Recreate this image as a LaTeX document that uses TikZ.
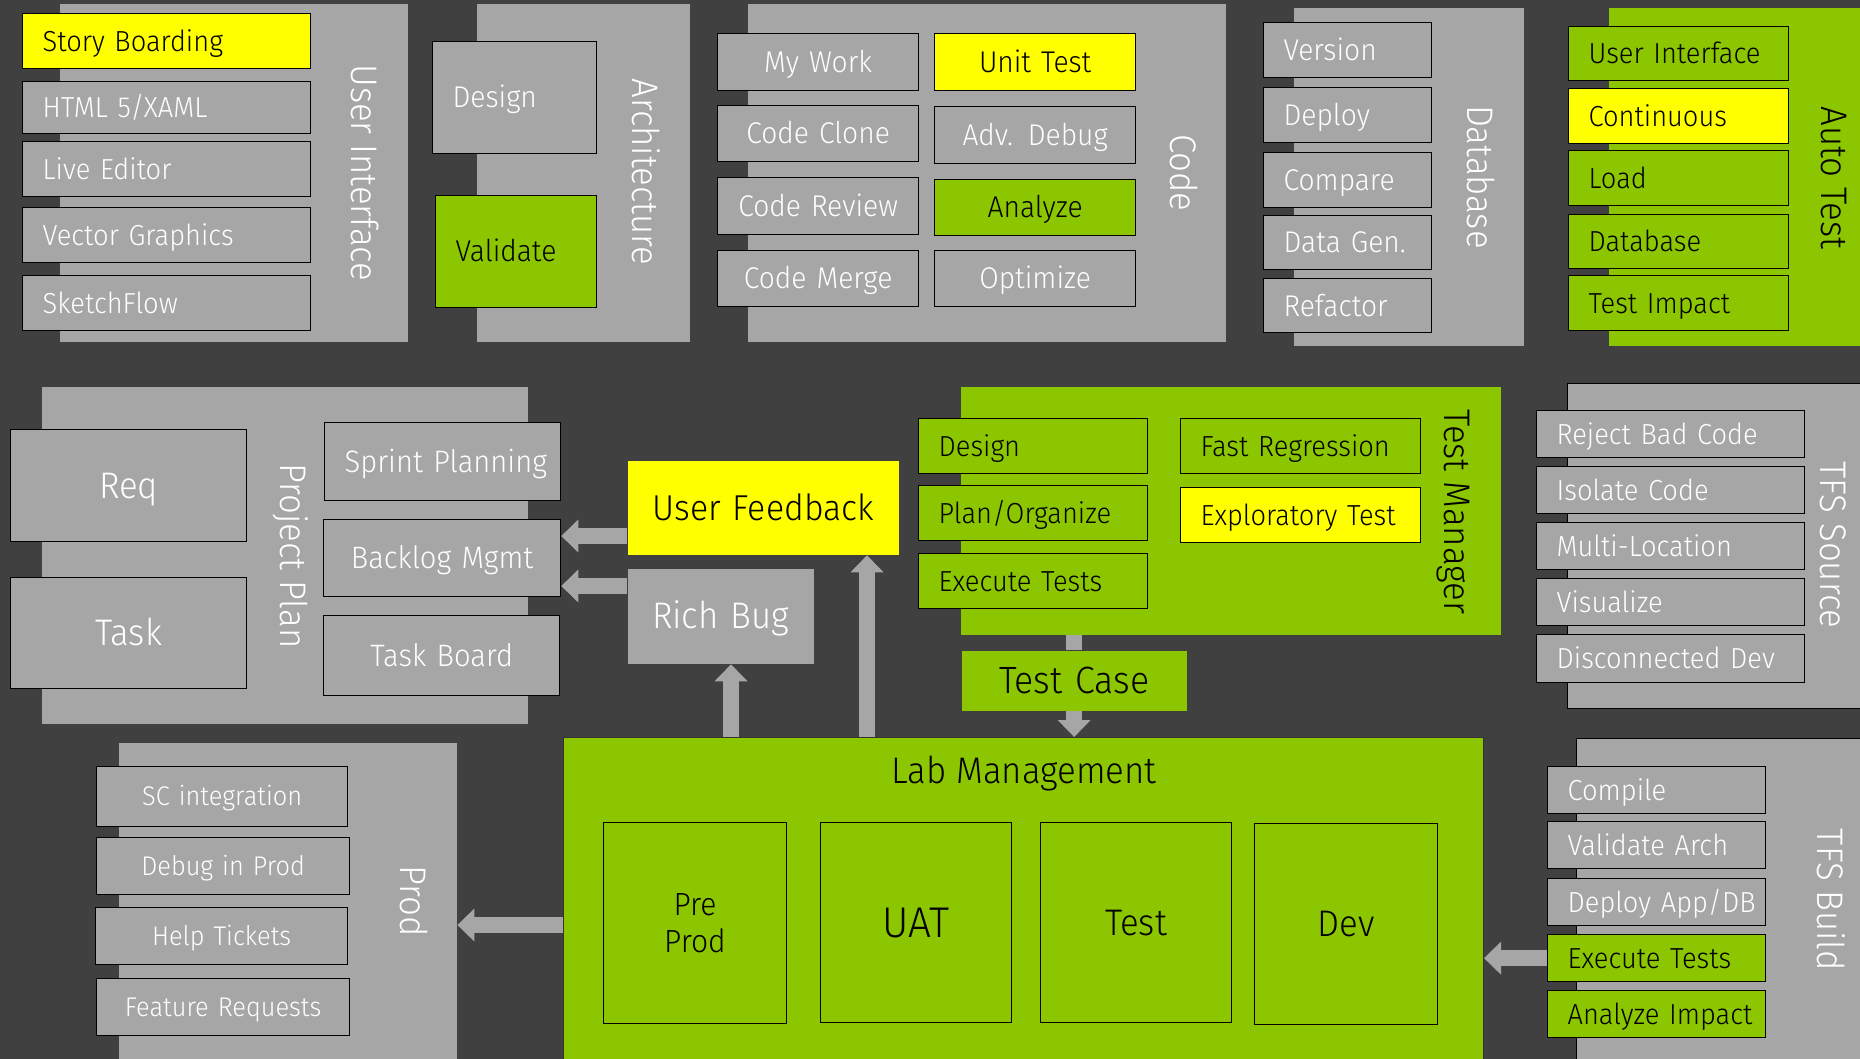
\documentclass[tikz,border=0pt]{standalone}
\usepackage{fontspec}
\setmainfont{Fira Sans}[UprightFont={* Light}, FakeStretch=0.94]
\usetikzlibrary{arrows.meta}
\definecolor{bgc}{RGB}{64,64,64}
\definecolor{pgray}{RGB}{166,166,166}
\definecolor{pgreen}{RGB}{140,198,0}
\definecolor{pyellow}{RGB}{255,255,0}
\newcommand\myfs[1]{\fontsize{#1pt}{#1pt}\selectfont}
\newcommand\bx[7]{\node[#6, minimum width={(#4-#2)*1pt}, minimum height={(#5-#3)*1pt}, text width={(#4-#2-40)*1pt}, anchor=north west] (#1) at (#2,#3) {\mbox{#7}};}
\tikzset{
 fsz/.style={font=\myfs{#1}, text height={0.69*#1pt}, text depth=0pt},
 base/.style={inner xsep=20pt, inner ysep=0pt, fsz=29, draw=black, line width=1.3pt},
 gbox/.style={base, fill=pgray, text=white, align=left},
 grbox/.style={base, fill=pgreen, text=black, align=left},
 ybox/.style={base, fill=pyellow, text=black, align=left},
 cen/.style={align=center},
 panel/.style={inner xsep=20pt, inner ysep=0pt, fill=pgray, text height=0pt, text depth=0pt},
 gpanel/.style={panel, fill=pgreen},
 title/.style={rotate=-90, inner sep=0pt, fsz=37, text=white},
 arr/.style={draw=pgray, line width=16pt, -{Triangle[width=32pt,length=17pt]}},
 bar/.style={draw=pgray, line width=16pt},
}
\begin{document}
\begin{tikzpicture}[x=1pt,y=-1pt]
\useasboundingbox (0,0) rectangle (1860,1059);
\clip (0,0) rectangle (1860,1059);
\fill[bgc] (0,0) rectangle (1860,1059);
% panels
\bx{uip}{60}{4}{408}{342}{panel}{}
\bx{archp}{477}{4}{690}{342}{panel}{}
\bx{codep}{748}{4}{1226}{342}{panel}{}
\bx{dbp}{1294}{8}{1524}{346}{panel}{}
\bx{atp}{1609}{8}{1875}{346}{gpanel}{}
\bx{ppp}{42}{387}{528}{724}{panel}{}
\bx{tm}{961}{387}{1501}{635}{gpanel}{}
\bx{tfss}{1567}{383}{1875}{708}{panel, draw=black, line width=1.3pt}{}
\bx{prod}{119}{743}{457}{1075}{panel}{}
\bx{lab}{563}{737}{1483}{1075}{gpanel, draw=black!80, line width=1pt}{}
\bx{tfsb}{1576}{738}{1875}{1075}{panel, draw=black, line width=1.3pt}{}
% titles
\node[title] (uit) at (364,173) {User Interface};
\node[title] (archt) at (645,172) {Architecture};
\node[title] (codet) at (1183,173) {Code};
\node[title] (dbt) at (1480,177) {Database};
\node[title, text=black] (att) at (1834,178) {Auto Test};
\node[title] (ppt) at (293,556) {Project Plan};
\node[title, text=black] (tmt) at (1457,512) {Test Manager};
\node[title] (tfsst) at (1833,545) {TFS Source};
\node[title] (prodt) at (413,901) {Prod};
\node[title] (tfsbt) at (1830,900) {TFS Build};
\node[fsz=37, inner sep=0pt, text=black] (labt) at (1024,771) {Lab Management};
% user interface
\bx{sb}{22}{13}{310}{68}{ybox}{Story Boarding}
\bx{html}{22}{81}{310}{133}{gbox}{HTML 5/XAML}
\bx{live}{22}{141}{310}{196}{gbox}{Live Editor}
\bx{vec}{22}{207}{310}{262}{gbox}{Vector Graphics}
\bx{sketch}{22}{275}{310}{330}{gbox}{SketchFlow}
% architecture
\bx{adesign}{432}{41}{596}{153}{gbox, fsz=30}{Design}
\bx{avalid}{435}{195}{596}{307}{grbox, fsz=30}{Validate}
% code
\bx{mywork}{717}{33}{918}{90}{gbox, cen, fsz=30}{My Work}
\bx{cclone}{717}{105}{918}{161}{gbox, cen, fsz=30}{Code Clone}
\bx{creview}{717}{177}{918}{234}{gbox, cen, fsz=30}{Code Review}
\bx{cmerge}{717}{250}{918}{306}{gbox, cen, fsz=30}{Code Merge}
\bx{utest}{934}{33}{1135}{90}{ybox, cen, fsz=30}{Unit Test}
\bx{adebug}{934}{106}{1135}{163}{gbox, cen, fsz=30}{Adv. Debug}
\bx{analyze}{934}{179}{1135}{235}{grbox, cen, fsz=30}{Analyze}
\bx{optimize}{934}{250}{1135}{306}{gbox, cen, fsz=30}{Optimize}
% database
\bx{dver}{1263}{22}{1431}{77}{gbox, fsz=30}{Version}
\bx{ddep}{1263}{87}{1431}{142}{gbox, fsz=30}{Deploy}
\bx{dcmp}{1263}{152}{1431}{207}{gbox, fsz=30}{Compare}
\bx{dgen}{1263}{215}{1431}{269}{gbox, fsz=30}{Data Gen.}
\bx{dref}{1263}{278}{1431}{332}{gbox, fsz=30}{Refactor}
% auto test
\bx{atui}{1568}{26}{1788}{80}{grbox}{User Interface}
\bx{atcont}{1568}{88}{1788}{143}{ybox}{Continuous}
\bx{atload}{1568}{150}{1788}{205}{grbox}{Load}
\bx{atdb}{1568}{214}{1788}{268}{grbox}{Database}
\bx{atimp}{1568}{275}{1788}{330}{grbox}{Test Impact}
% project plan
\bx{req}{10}{429}{246}{541}{gbox, cen, fsz=37}{Req}
\bx{task}{10}{577}{246}{688}{gbox, cen, fsz=37}{Task}
\bx{sprint}{324}{422}{560}{500}{gbox, cen, fsz=31}{Sprint Planning}
\bx{backlog}{323}{519}{560}{596}{gbox, cen, fsz=31}{Backlog Mgmt}
\bx{tboard}{323}{615}{559}{695}{gbox, cen, fsz=31}{Task Board}
% feedback / bug
\bx{uf}{627}{460}{898}{554}{ybox, draw=none, cen, fsz=36}{User Feedback}
\bx{rb}{627}{568}{813}{663}{gbox, draw=none, cen, fsz=37}{Rich Bug}
% test manager
\bx{tmdes}{918}{418}{1147}{473}{grbox}{Design}
\bx{tmplan}{918}{485}{1147}{540}{grbox}{Plan/Organize}
\bx{tmexec}{918}{553}{1147}{608}{grbox}{Execute Tests}
\bx{tmfast}{1180}{418}{1420}{473}{grbox}{Fast Regression}
\bx{tmexpl}{1180}{487}{1420}{542}{ybox}{Exploratory Test}
\bx{tc}{961}{650}{1186}{710}{grbox, draw=none, cen, fsz=38}{Test Case}
% tfs source
\bx{rbc}{1536}{410}{1804}{457}{gbox}{Reject Bad Code}
\bx{iso}{1536}{466}{1804}{513}{gbox}{Isolate Code}
\bx{multi}{1536}{522}{1804}{569}{gbox}{Multi-Location}
\bx{vis}{1536}{578}{1804}{625}{gbox}{Visualize}
\bx{disc}{1536}{634}{1804}{682}{gbox}{Disconnected Dev}
% prod
\bx{sci}{96}{766}{347}{826}{gbox, cen, fsz=27}{SC integration}
\bx{dbg}{96}{837}{349}{894}{gbox, cen, fsz=27}{Debug in Prod}
\bx{help}{95}{907}{347}{964}{gbox, cen, fsz=27}{Help Tickets}
\bx{feat}{96}{978}{349}{1035}{gbox, cen, fsz=27}{Feature Requests}
% lab
\node[grbox, cen, line width=1pt, font=\fontsize{32pt}{37pt}\selectfont, text height={}, text depth={}, inner xsep=0pt, minimum width=183pt, minimum height=201pt, anchor=north west] (pre) at (603,822) {Pre\\Prod};
\bx{uat}{820}{822}{1011}{1022}{grbox, cen, line width=1pt, fsz=43}{UAT}
\bx{ltest}{1040}{822}{1231}{1022}{grbox, cen, line width=1pt, fsz=37}{Test}
\bx{dev}{1254}{823}{1437}{1024}{grbox, cen, line width=1pt, fsz=37}{Dev}
% tfs build
\bx{bcomp}{1547}{766}{1765}{813}{gbox}{Compile}
\bx{bval}{1547}{821}{1765}{868}{gbox}{Validate Arch}
\bx{bdep}{1547}{878}{1765}{925}{gbox}{Deploy App/DB}
\bx{bexec}{1547}{934}{1765}{981}{grbox}{Execute Tests}
\bx{bimp}{1547}{990}{1765}{1037}{grbox}{Analyze Impact}
% connectors
\draw[arr] (uf.west |- 0,536) -- (backlog.east |- 0,536);
\draw[arr] (rb.west |- 0,586) -- (backlog.east |- 0,586);
\draw[arr] (lab.north -| 731,0) -- (rb.south -| 731,0);
\draw[arr] (lab.north -| 867,0) -- (uf.south -| 867,0);
\draw[bar] (tm.south -| tc.north) -- (tc.north);
\draw[arr] (tc.south) -- (lab.north -| tc.south);
\draw[arr] (lab.west |- 0,925) -- (prod.east |- 0,925);
\draw[arr] (bexec.west) -- (lab.east |- bexec.west);
\end{tikzpicture}
\end{document}
